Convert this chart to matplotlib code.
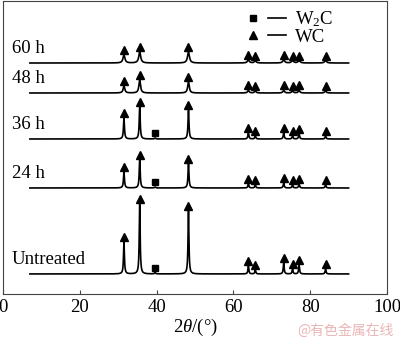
import numpy as np
import matplotlib.pyplot as plt
from matplotlib.lines import Line2D
from matplotlib.legend_handler import HandlerTuple

plt.rcParams["font.family"] = ["Liberation Serif", "DejaVu Serif"]
plt.rcParams["mathtext.fontset"] = "custom"
plt.rcParams["mathtext.rm"] = "Liberation Serif"
plt.rcParams["mathtext.it"] = "Liberation Serif:italic"

# peak positions (2theta, deg)
wc_pos = [31.5, 35.6, 48.3, 63.9, 65.7, 73.1, 75.4, 77.1, 84.0]
w2c_pos = [39.6]

samples = ["Untreated", "24 h", "36 h", "48 h", "60 h"]
baselines = [20, 106, 155, 201, 231]
# WC peak heights above baseline
wc_heights = [
    [32, 70, 63, 8, 4, 11, 5, 9, 5],
    [16, 28, 24, 4, 3, 5, 3, 4, 3],
    [21, 32, 29, 6, 3, 6, 3, 5, 3],
    [7, 13, 11, 2.5, 2, 2.5, 2, 2.5, 2],
    [8, 11, 11, 3, 2, 3, 2.5, 2.5, 2.5],
]
w2c_heights = [1.5, 1.0, 1.0, 0, 0]
widths = [0.28, 0.3, 0.3, 0.5, 0.6]
has_w2c = [True, True, True, False, False]

x = np.linspace(7, 90, 3000)


def profile(pos, hts, w):
    y = np.zeros_like(x)
    for p, h in zip(pos, hts):
        y += h / (1 + ((x - p) / (w / 2)) ** 2)
    return y


fig = plt.figure(figsize=(4, 3.41), dpi=100)
ax = fig.add_axes([0.0075, 0.138, 0.96, 0.859])

for i, name in enumerate(samples):
    y = baselines[i] + profile(wc_pos + w2c_pos, wc_heights[i] + [w2c_heights[i]], widths[i])
    ax.plot(x, y, color="black", lw=1.2)
    ax.plot(wc_pos, np.array(wc_heights[i]) + baselines[i] + 5, "^", color="black", ms=5.5)
    if has_w2c[i]:
        ax.plot(w2c_pos, [baselines[i] + 6], "s", color="black", ms=4.5)
    ax.text(2.3, baselines[i] + 6, name, fontsize=13.5, ha="left", va="bottom")

ax.set_xlim(0, 100)
ax.set_ylim(0, 293)
ax.set_yticks([])
ax.set_xticks([0, 20, 40, 60, 80, 100])
ax.tick_params(axis="x", direction="in", length=3, labelsize=13.5, pad=4, color="#444")
for s in ax.spines.values():
    s.set_color("#444")
ax.set_xlabel(r"2$\mathit{\theta}$/(°)", fontsize=13.5, labelpad=0)

h1 = (Line2D([], [], marker="s", ls="none", color="black", ms=4.5),
      Line2D([], [], color="black", lw=1.2))
h2 = (Line2D([], [], marker="^", ls="none", color="black", ms=5.5),
      Line2D([], [], color="black", lw=1.2))
ax.legend([h1, h2], [r"W$_2$C", "WC"], handler_map={tuple: HandlerTuple(ndivide=None, pad=0.3)},
          loc="upper left", bbox_to_anchor=(0.585, 1.03), frameon=False, fontsize=13.5,
          handlelength=2.2, handletextpad=0.5, labelspacing=0.0)

fig.text(0.985, 0.01, "@有色金属在线", color="#eab6b6", fontsize=10, ha="right", va="bottom",
         family=["Noto Sans CJK SC", "DejaVu Sans"])

fig.savefig("out.png", dpi=100)
